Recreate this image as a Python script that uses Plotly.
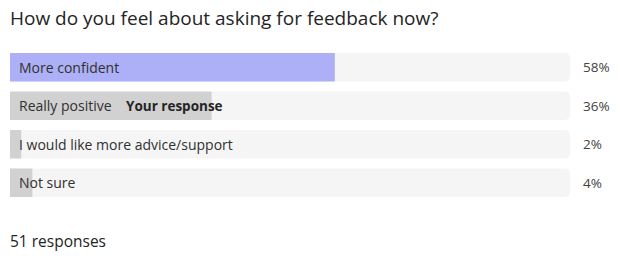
import plotly.graph_objects as go

title = "How do you feel about asking for feedback now?"
options = ["More confident", "Really positive", "I would like more advice/support", "Not sure"]
percents = [58, 36, 2, 4]
your_response = "Really positive"
highlight = "More confident"
responses = 51

FONT = "Open Sans, Segoe UI, sans-serif"
ypos = list(range(len(options)))
fill_colors = ["#ADB0F6" if o == highlight else "#D1D1D1" for o in options]

fig = go.Figure()
fig.add_trace(go.Bar(
    x=[100] * len(options), y=ypos, orientation="h",
    marker=dict(color="#F5F5F5", line=dict(width=0), cornerradius=5),
    width=0.74, hoverinfo="skip", showlegend=False,
))
fig.add_trace(go.Bar(
    x=percents, y=ypos, orientation="h",
    marker=dict(color=fill_colors, line=dict(width=0), cornerradius=5),
    width=0.74, hoverinfo="skip", showlegend=False,
))

for i, (o, p) in enumerate(zip(options, percents)):
    fig.add_annotation(x=0, y=i, xref="x", yref="y", text=o, showarrow=False,
                       xanchor="left", xshift=7,
                       font=dict(family=FONT, size=14, color="#303030"))
    if o == your_response:
        fig.add_annotation(x=0, y=i, xref="x", yref="y", text="<b>Your response</b>",
                           showarrow=False, xanchor="left", xshift=114,
                           font=dict(family=FONT, size=13.5, color="#242424"))
    fig.add_annotation(x=100, y=i, xref="x", yref="y", text=f"{p}%", showarrow=False,
                       xanchor="left", xshift=11,
                       font=dict(family=FONT, size=13.5, color="#424242"))

fig.add_annotation(x=0, y=1, xref="paper", yref="paper", text=title, showarrow=False,
                   xanchor="left", yanchor="middle", xshift=-2, yshift=30,
                   font=dict(family=FONT, size=19, color="#242424"))
fig.add_annotation(x=0, y=0, xref="paper", yref="paper", text=f"{responses} responses",
                   showarrow=False, xanchor="left", yanchor="middle", xshift=-2,
                   yshift=-39,
                   font=dict(family=FONT, size=15.5, color="#242424"))

fig.update_layout(
    width=620, height=270,
    margin=dict(l=10, r=50, t=48, b=68),
    paper_bgcolor="white", plot_bgcolor="white",
    barmode="overlay",
    xaxis=dict(range=[0, 100], visible=False, fixedrange=True),
    yaxis=dict(range=[3.5, -0.5], visible=False, fixedrange=True),
)
fig.write_html("out.html")
